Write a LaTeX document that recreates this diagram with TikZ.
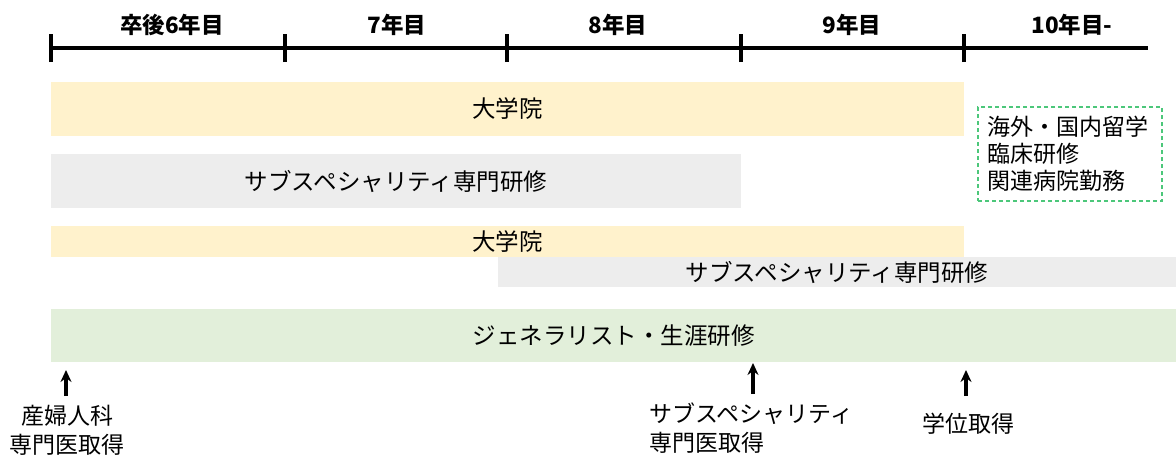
\documentclass[tikz,border=0pt]{standalone}
\usepackage{fontspec}
\setmainfont{Noto Sans CJK JP}
\usetikzlibrary{arrows.meta}
\definecolor{yel}{HTML}{FFF2CC}
\definecolor{gry}{HTML}{EDEDED}
\definecolor{grn}{HTML}{E2EFDA}
\definecolor{dgrn}{HTML}{4CC77A}
\tikzset{
  bar/.style={rectangle, inner sep=0pt, draw=none, font=\fontsize{23.5}{28}\selectfont},
  yr/.style={font=\bfseries\fontsize{22.5}{26}\selectfont},
  lbl/.style={font=\fontsize{23}{29}\selectfont, inner sep=0pt},
  tl/.style={line width=3.6pt},
  arr/.style={line width=3.4pt, -{Stealth[length=12pt,width=11pt]}}
}
\begin{document}
\begin{tikzpicture}[x=1pt,y=-1pt]
\useasboundingbox (0,0) rectangle (1176,464);
% timeline
\coordinate (t0) at (51,48);
\coordinate (t1) at (285,48);
\coordinate (t2) at (507,48);
\coordinate (t3) at (741,48);
\coordinate (t4) at (964,48);
\coordinate (tend) at (1148,48);
\draw[tl] (t0) -- (tend);
\foreach \t in {t0,t1,t2,t3,t4}{\draw[tl] ([yshift=-14pt]\t) -- ([yshift=14pt]\t);}
\node[yr] (y6) at (172,25) {卒後6年目};
\node[yr] (y7) at (397,25) {7年目};
\node[yr] (y8) at (618,25) {8年目};
\node[yr] (y9) at (852,25) {9年目};
\node[yr] (y10) at (1072,25) {10年目-};
% bars
\node[bar, fill=yel, minimum width=913pt, minimum height=54pt] (b1) at (507.5,109) {大学院};
\node[bar, fill=gry, minimum width=690pt, minimum height=54pt] (b2) at (396,181) {サブスペシャリティ専門研修};
\node[bar, fill=yel, minimum width=913pt, minimum height=31pt] (b3) at (507.5,241.5) {大学院};
\node[bar, fill=gry, minimum width=678pt, minimum height=30pt] (b4) at (837,272) {サブスペシャリティ専門研修};
\node[bar, fill=grn, minimum width=1125pt, minimum height=53pt] (b5) at (613.5,335.5) {ジェネラリスト・生涯研修};
% dashed box
\node[draw=dgrn, line width=1.4pt, dash pattern=on 4pt off 3pt, minimum width=184pt, minimum height=94pt, text width=184pt, align=left, inner sep=0pt, font=\fontsize{23}{27}\selectfont] (ob) at (1070,154) {\hspace*{9pt}海外・国内留学\\\hspace*{9pt}臨床研修\\\hspace*{9pt}関連病院勤務};
% bottom labels
\node[lbl, align=center] (l1) at (67,430) {産婦人科\\専門医取得};
\node[lbl, align=left, anchor=west] (l2) at (649,428) {サブスペシャリティ\\専門医取得};
\node[lbl] (l3) at (968,424) {学位取得};
\coordinate (a1s) at (66,396); \coordinate (a1e) at (66,370);
\coordinate (a2s) at (753,394); \coordinate (a2e) at (753,363);
\coordinate (a3s) at (966,396); \coordinate (a3e) at (966,370);
\draw[arr] (a1s) -- (a1e);
\draw[arr] (a2s) -- (a2e);
\draw[arr] (a3s) -- (a3e);
\end{tikzpicture}
\end{document}
